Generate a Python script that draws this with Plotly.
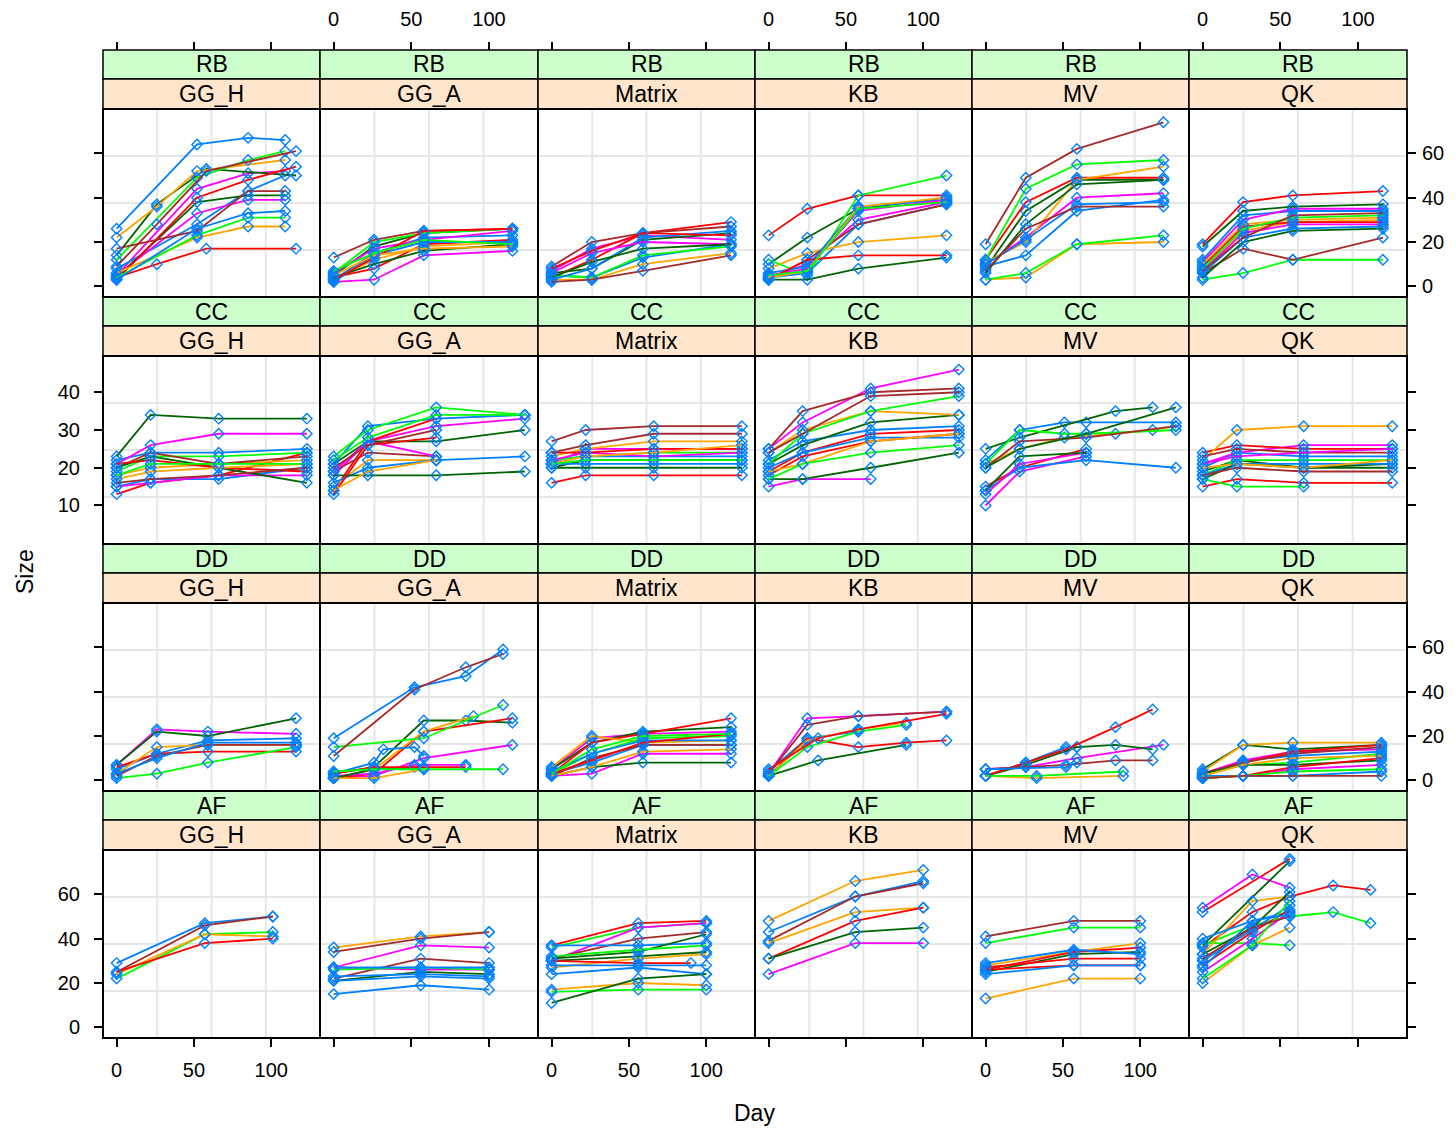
import plotly.graph_objects as go

# ---------------- data ----------------
ROWS = ["RB", "CC", "DD", "AF"]
COLS = ["GG_H", "GG_A", "Matrix", "KB", "MV", "QK"]
X_TICKS = [0, 50, 100]
Y_TICKS_WIDE = [0, 20, 40, 60]
Y_TICKS_CC = [10, 20, 30, 40]

# each panel: list of (group id, days, sizes)
RB_GG_H = [
    (0, [0, 52, 85, 109], [26, 64, 67, 66]),
    (1, [0, 52, 85, 109], [5, 44, 51, 52]),
    (2, [0, 26, 58, 116], [14, 37, 53, 50]),
    (3, [0, 26, 58, 116], [4, 10, 17, 17]),
    (4, [0, 26, 52, 109], [22, 36, 52, 57]),
    (5, [0, 52, 85, 109], [12, 49, 57, 61]),
    (6, [0, 26, 58, 116], [9, 28, 52, 61]),
    (7, [0, 52, 85, 109], [8, 28, 43, 50]),
    (8, [0, 52, 85, 109], [5, 33, 39, 39]),
    (9, [0, 52, 85, 109], [4, 38, 41, 41]),
    (10, [0, 52, 85, 116], [3, 40, 48, 54]),
    (11, [0, 52, 85, 109], [6, 22, 27, 27]),
    (12, [0, 52, 85, 109], [4, 23, 31, 31]),
    (13, [0, 52, 85, 109], [17, 25, 43, 43]),
    (14, [0, 52, 85, 109], [3, 26, 33, 34]),
]
RB_GG_A = [
    (0, [0, 26, 58, 115], [3, 15, 22, 23]),
    (1, [0, 26, 58, 115], [2, 3, 14, 16]),
    (2, [0, 26, 58, 115], [5, 18, 24, 26]),
    (3, [0, 26, 58, 115], [4, 8, 19, 21]),
    (4, [0, 26, 58, 115], [3, 12, 18, 20]),
    (5, [0, 26, 58, 115], [6, 20, 24, 26]),
    (6, [0, 26, 58, 115], [13, 21, 25, 26]),
    (7, [0, 26, 58, 115], [2, 14, 20, 20]),
    (8, [0, 26, 58, 115], [6, 17, 21, 25]),
    (9, [0, 26, 58, 115], [4, 10, 16, 19]),
    (10, [0, 26, 58, 115], [3, 13, 25, 26]),
    (11, [0, 26, 58, 115], [5, 14, 17, 18]),
    (12, [0, 26, 58, 115], [7, 15, 21, 19]),
]
RB_MATRIX = [
    (0, [0, 26, 59, 116], [5, 4, 13, 19]),
    (1, [0, 26, 59, 116], [7, 17, 23, 21]),
    (2, [0, 26, 59, 116], [6, 8, 21, 24]),
    (3, [0, 26, 59, 116], [4, 12, 24, 29]),
    (4, [0, 26, 59, 116], [3, 3, 10, 15]),
    (5, [0, 26, 59, 116], [5, 4, 14, 18]),
    (6, [0, 26, 59, 116], [9, 20, 24, 27]),
    (7, [0, 26, 59, 116], [3, 8, 22, 25]),
    (8, [0, 26, 59, 116], [6, 15, 20, 19]),
    (9, [0, 26, 59, 116], [4, 11, 17, 19]),
    (10, [0, 26, 59, 116], [8, 16, 24, 23]),
    (13, [0, 26, 59, 116], [2, 3, 7, 14]),
]
RB_KB = [
    (0, [0, 25, 58, 115], [4, 6, 28, 37]),
    (1, [0, 25, 58, 115], [4, 10, 30, 38]),
    (2, [0, 25, 58, 115], [10, 22, 35, 40]),
    (3, [0, 25, 58, 115], [23, 35, 41, 41]),
    (4, [0, 25, 58, 115], [8, 15, 20, 23]),
    (5, [0, 25, 58, 115], [12, 5, 41, 50]),
    (6, [0, 25, 58, 115], [3, 12, 28, 37]),
    (7, [0, 25, 58, 115], [6, 9, 36, 39]),
    (8, [0, 25, 58, 115], [5, 8, 34, 39]),
    (9, [0, 25, 58, 115], [3, 3, 8, 13]),
    (10, [0, 25, 58, 115], [3, 12, 14, 14]),
    (11, [0, 25, 58, 115], [4, 7, 36, 40]),
    (12, [0, 25, 58, 115], [5, 7, 35, 38]),
]
RB_MV = [
    (0, [0, 26, 59, 115], [9, 14, 34, 39]),
    (1, [0, 26, 59, 115], [10, 22, 40, 42]),
    (2, [0, 26, 59, 115], [8, 34, 48, 48]),
    (3, [0, 26, 59, 115], [12, 38, 49, 49]),
    (4, [0, 26, 59, 115], [11, 20, 48, 54]),
    (5, [0, 26, 59, 115], [12, 44, 55, 57]),
    (6, [0, 26, 59, 115], [19, 49, 62, 74]),
    (7, [0, 26, 59, 115], [10, 21, 37, 38]),
    (9, [0, 26, 59, 115], [6, 28, 46, 48]),
    (11, [0, 26, 59, 115], [3, 4, 19, 20]),
    (12, [0, 26, 59, 115], [3, 6, 19, 23]),
    (13, [0, 26, 59, 115], [7, 26, 36, 36]),
]
RB_QK = [
    (0, [0, 26, 58, 116], [12, 32, 34, 34]),
    (1, [0, 26, 58, 116], [11, 30, 35, 35]),
    (2, [0, 26, 58, 116], [18, 34, 36, 37]),
    (3, [0, 26, 58, 116], [19, 38, 41, 43]),
    (4, [0, 26, 58, 116], [8, 25, 29, 30]),
    (5, [0, 26, 58, 116], [3, 6, 12, 12]),
    (6, [0, 26, 58, 116], [6, 17, 12, 22]),
    (7, [0, 26, 58, 116], [6, 22, 26, 27]),
    (8, [0, 26, 58, 116], [7, 24, 28, 28]),
    (9, [0, 26, 58, 116], [4, 20, 25, 26]),
    (10, [0, 26, 58, 116], [9, 27, 29, 29]),
    (11, [0, 26, 58, 116], [10, 28, 30, 31]),
    (12, [0, 26, 58, 116], [8, 26, 31, 32]),
    (13, [0, 26, 58, 116], [7, 22, 32, 33]),
]
CC_GG_H = [
    (0, [0, 22, 66, 123], [22, 24, 24, 25]),
    (1, [0, 22, 66, 123], [21, 26, 29, 29]),
    (2, [0, 22, 66, 123], [23, 34, 33, 33]),
    (3, [0, 22, 66, 123], [13, 16, 18, 24]),
    (4, [0, 22, 66, 123], [18, 20, 21, 22]),
    (5, [0, 22, 66, 123], [19, 23, 23, 24]),
    (6, [0, 22, 66, 123], [20, 24, 21, 23]),
    (7, [0, 22, 66, 123], [15, 17, 17, 20]),
    (8, [0, 22, 66, 123], [15, 16, 18, 18]),
    (9, [0, 22, 66, 123], [20, 23, 20, 16]),
    (10, [0, 22, 66, 123], [21, 22, 20, 19]),
    (11, [0, 22, 66, 123], [17, 19, 20, 21]),
    (12, [0, 22, 66, 123], [18, 21, 21, 21]),
    (13, [0, 22, 66, 123], [16, 17, 18, 20]),
]
CC_GG_A = [
    (0, [0, 22, 66, 123], [21, 31, 33, 34]),
    (1, [0, 22, 66, 123], [18, 27, 31, 33]),
    (2, [0, 22, 66, 123], [21, 27, 27, 30]),
    (3, [0, 22, 66], [14, 27, 33]),
    (4, [0, 22, 66], [15, 22, 22]),
    (5, [0, 22, 66, 123], [23, 30, 36, 34]),
    (6, [0, 22, 66], [19, 24, 23]),
    (7, [0, 22, 66, 123], [16, 20, 22, 23]),
    (8, [0, 22, 66], [19, 27, 23]),
    (9, [0, 22, 66, 123], [18, 18, 18, 19]),
    (10, [0, 22, 66], [13, 26, 28]),
    (11, [0, 22, 66], [14, 19, 22]),
    (12, [0, 22, 66, 123], [22, 28, 34, 34]),
    (13, [0, 22, 66], [20, 26, 30]),
]
CC_MATRIX = [
    (0, [0, 22, 66, 123], [22, 23, 23, 23]),
    (1, [0, 22, 66, 123], [21, 25, 25, 25]),
    (2, [0, 22, 66, 123], [20, 22, 22, 22]),
    (3, [0, 22, 66, 123], [16, 18, 18, 18]),
    (4, [0, 22, 66, 123], [23, 25, 27, 27]),
    (5, [0, 22, 66, 123], [22, 23, 24, 24]),
    (6, [0, 22, 66, 123], [27, 30, 31, 31]),
    (7, [0, 22, 66, 123], [21, 21, 21, 21]),
    (8, [0, 22, 66, 123], [22, 24, 23, 24]),
    (9, [0, 22, 66, 123], [20, 20, 20, 20]),
    (10, [0, 22, 66, 123], [24, 24, 25, 25]),
    (11, [0, 22, 66, 123], [21, 23, 24, 26]),
    (12, [0, 22, 66, 123], [21, 22, 22, 22]),
    (13, [0, 22, 66, 123], [24, 26, 29, 29]),
]
CC_KB = [
    (0, [0, 22, 66, 123], [22, 27, 30, 31]),
    (1, [0, 22, 66, 123], [25, 32, 41, 46]),
    (2, [0, 22, 66, 123], [21, 26, 32, 34]),
    (3, [0, 22, 66, 123], [19, 24, 29, 30]),
    (4, [0, 22, 66, 123], [24, 30, 35, 34]),
    (5, [0, 22, 66, 123], [21, 29, 35, 39]),
    (6, [0, 22, 66, 123], [25, 35, 40, 41]),
    (7, [0, 22, 66, 123], [20, 24, 28, 28]),
    (8, [0, 22, 66], [15, 17, 17]),
    (9, [0, 22, 66, 123], [17, 17, 20, 24]),
    (10, [0, 22, 66, 123], [18, 23, 27, 29]),
    (11, [0, 22, 66, 123], [19, 21, 27, 29]),
    (12, [0, 22, 66, 123], [17, 21, 24, 26]),
    (13, [0, 22, 66, 123], [24, 29, 39, 40]),
]
CC_MV = [
    (0, [0, 22, 51, 65, 123], [22, 30, 32, 32, 32]),
    (1, [0, 22, 65], [10, 19, 23]),
    (2, [0, 22, 84, 108], [25, 28, 35, 36]),
    (3, [0, 22, 65], [15, 20, 25]),
    (4, [0, 22, 51, 84, 108, 123], [21, 25, 28, 29, 30, 31]),
    (5, [0, 22, 51, 65, 123], [21, 30, 29, 29, 30]),
    (6, [0, 22, 65, 123], [20, 27, 28, 31]),
    (7, [0, 22, 65, 123], [14, 20, 22, 20]),
    (8, [0, 22, 65], [13, 21, 24]),
    (9, [0, 22, 65, 123], [20, 25, 29, 36]),
    (16, [0, 22, 65], [14, 23, 24]),
]
CC_QK = [
    (0, [0, 22, 65, 122], [20, 24, 23, 23]),
    (1, [0, 22, 65, 122], [21, 24, 26, 26]),
    (2, [0, 22, 65, 122], [19, 22, 20, 21]),
    (3, [0, 22, 65, 122], [24, 26, 25, 25]),
    (4, [0, 22, 65, 122], [22, 30, 31, 31]),
    (5, [0, 22, 65, 122], [18, 22, 22, 22]),
    (6, [0, 22, 65, 122], [23, 25, 24, 24]),
    (7, [0, 22, 65, 122], [18, 21, 21, 21]),
    (8, [0, 22, 65, 122], [21, 23, 24, 25]),
    (9, [0, 22, 65, 122], [17, 21, 20, 20]),
    (10, [0, 22, 65, 122], [15, 17, 16, 16]),
    (11, [0, 22, 65, 122], [20, 21, 20, 22]),
    (12, [0, 22, 65], [17, 15, 15]),
    (13, [0, 22, 65, 122], [18, 20, 19, 19]),
]
DD_GG_H = [
    (0, [0, 26, 59, 116], [5, 12, 18, 19]),
    (1, [0, 26, 59, 116], [7, 23, 22, 21]),
    (2, [0, 26, 59, 116], [7, 22, 20, 28]),
    (3, [0, 26, 59, 116], [6, 12, 13, 13]),
    (4, [0, 26, 59, 116], [3, 15, 16, 16]),
    (5, [0, 26, 59, 116], [1, 3, 8, 15]),
    (6, [0, 26, 59, 116], [2, 11, 16, 16]),
    (7, [0, 26, 59, 116], [3, 10, 17, 17]),
]
DD_GG_A = [
    (0, [0, 52, 85, 109], [19, 42, 47, 59]),
    (1, [0, 26, 58, 115], [1, 2, 10, 16]),
    (2, [0, 26, 58, 85, 115], [3, 6, 27, 27, 26]),
    (3, [0, 26, 58, 115], [1, 3, 22, 28]),
    (4, [0, 26, 58, 90], [1, 5, 22, 29]),
    (5, [0, 58, 109], [15, 19, 34]),
    (6, [0, 52, 85, 109], [11, 41, 51, 57]),
    (7, [0, 26, 32, 52, 58], [3, 8, 14, 15, 11]),
    (8, [0, 26, 52, 85], [2, 3, 7, 7]),
    (9, [0, 26, 58], [1, 5, 6]),
    (10, [0, 26, 52, 85], [3, 6, 6, 6]),
    (11, [0, 26, 58], [1, 1, 5]),
    (12, [0, 26, 58, 109], [4, 5, 5, 5]),
]
DD_MATRIX = [
    (0, [0, 26, 59, 116], [3, 8, 16, 16]),
    (1, [0, 26, 59, 116], [5, 19, 21, 22]),
    (2, [0, 26, 59, 116], [5, 17, 22, 24]),
    (3, [0, 26, 59, 116], [3, 17, 21, 28]),
    (4, [0, 26, 59, 116], [6, 20, 17, 18]),
    (5, [0, 26, 59, 116], [3, 12, 19, 20]),
    (6, [0, 26, 59, 116], [2, 10, 16, 16]),
    (7, [0, 26, 59, 116], [4, 12, 18, 18]),
    (8, [0, 26, 59, 116], [2, 3, 12, 12]),
    (9, [0, 26, 59, 116], [2, 6, 8, 8]),
    (10, [0, 26, 59, 116], [3, 9, 17, 21]),
    (11, [0, 26, 59, 116], [2, 6, 13, 14]),
    (12, [0, 26, 59, 116], [3, 14, 20, 21]),
]
DD_KB = [
    (0, [0, 25, 58], [4, 19, 22]),
    (1, [0, 25, 58, 115], [3, 28, 29, 31]),
    (2, [0, 32, 89], [2, 9, 16]),
    (3, [0, 25, 58, 89, 115], [2, 19, 15, 17, 18]),
    (4, [0, 25, 58, 89], [2, 18, 23, 26]),
    (5, [0, 25, 58, 89], [2, 15, 22, 25]),
    (6, [0, 25, 58, 115], [3, 25, 29, 31]),
    (10, [0, 32, 58, 115], [5, 19, 23, 30]),
]
DD_MV = [
    (0, [0, 26, 52, 59], [2, 8, 15, 15]),
    (1, [0, 26, 59, 115], [5, 6, 10, 16]),
    (2, [0, 26, 59, 84, 108], [2, 7, 15, 16, 14]),
    (3, [0, 26, 52, 84, 108], [2, 8, 14, 24, 32]),
    (4, [0, 33, 89], [2, 1, 2]),
    (5, [0, 33, 89], [2, 2, 4]),
    (6, [0, 26, 52, 84, 108], [5, 6, 7, 9, 9]),
    (7, [0, 52, 59], [5, 6, 8]),
]
DD_QK = [
    (0, [0, 26, 58, 115], [2, 9, 11, 13]),
    (1, [0, 26, 58, 115], [3, 9, 13, 14]),
    (2, [0, 26, 58, 115], [5, 16, 14, 16]),
    (3, [0, 26, 58, 115], [3, 8, 13, 16]),
    (4, [0, 26, 58, 115], [4, 16, 17, 17]),
    (5, [0, 26, 58, 115], [2, 7, 8, 12]),
    (6, [0, 26, 58, 115], [3, 8, 12, 15]),
    (7, [0, 26, 58, 115], [2, 2, 2, 4]),
    (8, [0, 26, 58, 115], [1, 2, 5, 7]),
    (9, [0, 26, 58, 115], [3, 7, 7, 9]),
    (10, [0, 26, 58, 115], [1, 2, 6, 10]),
    (11, [0, 26, 58, 115], [2, 7, 10, 11]),
    (12, [0, 26, 58, 115], [1, 2, 4, 5]),
    (13, [0, 26, 58, 115], [1, 2, 2, 2]),
]
AF_GG_H = [
    (0, [0, 57, 101], [29, 47, 50]),
    (6, [0, 57, 101], [25, 46, 50]),
    (5, [0, 57, 101], [22, 42, 43]),
    (4, [0, 57, 101], [24, 42, 41]),
    (3, [0, 57, 101], [25, 38, 40]),
]
AF_GG_A = [
    (4, [0, 56, 100], [36, 41, 43]),
    (6, [0, 56, 100], [34, 40, 43]),
    (1, [0, 56, 100], [27, 37, 36]),
    (13, [0, 56, 100], [22, 31, 29]),
    (8, [0, 56, 100], [27, 26, 26]),
    (5, [0, 56, 100], [26, 27, 26]),
    (0, [0, 56, 100], [27, 27, 27]),
    (2, [0, 56, 100], [21, 25, 24]),
    (7, [0, 56, 100], [23, 24, 23]),
    (14, [0, 56, 100], [21, 23, 22]),
    (21, [0, 56, 100], [15, 19, 17]),
]
AF_MATRIX = [
    (3, [0, 56, 100], [37, 47, 48]),
    (5, [0, 56, 100], [36, 45, 47]),
    (1, [0, 56, 100], [30, 45, 47]),
    (6, [0, 56, 100], [31, 40, 43]),
    (0, [0, 56, 100], [37, 37, 38]),
    (2, [0, 56, 100], [31, 34, 42]),
    (12, [0, 56, 100], [32, 35, 37]),
    (9, [0, 56, 100], [30, 32, 34]),
    (4, [0, 56, 100], [27, 31, 33]),
    (10, [0, 56, 90], [30, 29, 29]),
    (7, [0, 56, 100], [28, 28, 28]),
    (14, [0, 56, 100], [24, 27, 24]),
    (11, [0, 56, 100], [17, 20, 19]),
    (19, [0, 56, 100], [16, 17, 17]),
    (16, [0, 56, 100], [11, 22, 24]),
]
AF_KB = [
    (4, [0, 56, 100], [48, 66, 71]),
    (0, [0, 56, 100], [43, 59, 66]),
    (6, [0, 56, 100], [39, 59, 65]),
    (11, [0, 56, 100], [38, 52, 54]),
    (3, [0, 56, 100], [31, 48, 54]),
    (2, [0, 56, 100], [31, 43, 45]),
    (1, [0, 56, 100], [24, 38, 38]),
]
AF_MV = [
    (6, [0, 57, 100], [41, 48, 48]),
    (5, [0, 57, 100], [38, 45, 45]),
    (4, [0, 57, 100], [28, 34, 38]),
    (3, [0, 57, 100], [26, 34, 36]),
    (2, [0, 57, 100], [25, 33, 34]),
    (10, [0, 57, 100], [27, 31, 31]),
    (17, [0, 57, 100], [26, 28, 28]),
    (0, [0, 57, 100], [24, 28, 28]),
    (7, [0, 57, 100], [29, 35, 33]),
    (11, [0, 57, 100], [13, 22, 22]),
]
AF_QK = [
    (3, [0, 56], [52, 76]),
    (1, [0, 32, 56], [54, 69, 63]),
    (10, [0, 32, 56, 84, 108], [36, 52, 59, 64, 62]),
    (5, [0, 32, 56, 84, 108], [37, 46, 50, 52, 47]),
    (12, [0, 32, 56], [38, 38, 37]),
    (2, [0, 56], [37, 75]),
    (4, [0, 32, 56], [33, 57, 59]),
    (11, [0, 32, 56], [20, 37, 45]),
    (0, [0, 32, 56], [40, 48, 52]),
    (7, [0, 32, 56], [30, 44, 55]),
    (8, [0, 32, 56], [25, 40, 52]),
    (9, [0, 32, 56], [33, 45, 61]),
    (17, [0, 32, 56], [28, 43, 53]),
    (19, [0, 32, 56], [22, 37, 57]),
    (6, [0, 32, 56], [31, 45, 50]),
    (14, [0, 32, 56], [27, 48, 51]),
]

PANEL_DATA = [
    [RB_GG_H, RB_GG_A, RB_MATRIX, RB_KB, RB_MV, RB_QK],
    [CC_GG_H, CC_GG_A, CC_MATRIX, CC_KB, CC_MV, CC_QK],
    [DD_GG_H, DD_GG_A, DD_MATRIX, DD_KB, DD_MV, DD_QK],
    [AF_GG_H, AF_GG_A, AF_MATRIX, AF_KB, AF_MV, AF_QK],
]

# ---------------- style / layout ----------------
PALETTE = ["#0080ff", "#ff00ff", "#006400", "#ff0000", "#ffa500", "#00ff00", "#a52a2a"]
MARKER_COLOR = "#0080ff"
STRIP_OUTER = "#ccffcc"
STRIP_INNER = "#ffe5cc"
GRID_COLOR = "#e6e6e6"
FONT = "Liberation Sans, Arial, sans-serif"

W, H = 1456, 1130
COL_EDGES = [103, 320, 538, 755, 972, 1189, 1407]
ROW_TOPS = [109, 356, 603, 850]
PANEL_H = 188
STRIP_OUT_H, STRIP_IN_H = 29, 30
TOP_AXIS_PX = 50
X_RANGE = [-8.8, 131.5]
Y_RANGES = [[-4.8, 80], [-0.2, 49.6], [-4.8, 80], [-4.8, 80]]


def px_x(p):
    return p / W


def px_y(p):
    return 1 - p / H


fig = go.Figure()
layout = dict(
    width=W, height=H, autosize=False,
    margin=dict(l=0, r=0, t=0, b=0),
    paper_bgcolor="white", plot_bgcolor="white",
    font=dict(family=FONT, color="black", size=20),
    showlegend=False,
)
shapes = []
annotations = []
borders = []

for r in range(4):
    top = ROW_TOPS[r]
    bot = top + PANEL_H
    for c in range(6):
        k = r * 6 + c + 1
        left = COL_EDGES[c]
        right = COL_EDGES[c + 1]
        xname = "x" if k == 1 else f"x{k}"
        yname = "y" if k == 1 else f"y{k}"
        xkey = "xaxis" if k == 1 else f"xaxis{k}"
        ykey = "yaxis" if k == 1 else f"yaxis{k}"

        layout[xkey] = dict(
            domain=[px_x(left), px_x(right)], range=X_RANGE, anchor=yname,
            showline=False, showgrid=False, zeroline=False, tickvals=X_TICKS,
            ticks="outside" if r == 3 else "", ticklen=8, tickwidth=1.5,
            tickcolor="black", showticklabels=(r == 3 and c % 2 == 0),
            ticklabelstandoff=6,
            tickfont=dict(size=20), fixedrange=True,
        )
        yticks = Y_TICKS_CC if r == 1 else Y_TICKS_WIDE
        outer = c in (0, 5)
        show_lab = (c == 0 and r in (1, 3)) or (c == 5 and r in (0, 2))
        layout[ykey] = dict(
            domain=[px_y(bot), px_y(top)], range=Y_RANGES[r], anchor=xname,
            side="right" if c == 5 else "left",
            showline=False, showgrid=False, zeroline=False, tickvals=yticks,
            ticks="outside" if outer else "", ticklen=8, tickwidth=1.5,
            tickcolor="black", showticklabels=show_lab,
            ticklabelstandoff=10 if c == 0 else 2,
            tickfont=dict(size=20), fixedrange=True,
        )

        # equal-division grid (3 lines each way)
        xd = f"{xname} domain"
        yd = f"{yname} domain"
        for f in (0.25, 0.5, 0.75):
            shapes.append(dict(type="line", xref=xd, yref=yd, x0=f, x1=f, y0=0, y1=1,
                               line=dict(color=GRID_COLOR, width=2), layer="below"))
            shapes.append(dict(type="line", xref=xd, yref=yd, x0=0, x1=1, y0=f, y1=f,
                               line=dict(color=GRID_COLOR, width=2), layer="below"))

        # panel border (shared edges coincide exactly)
        borders.append(dict(type="rect", xref="paper", yref="paper",
                            x0=px_x(left), x1=px_x(right), y0=px_y(bot), y1=px_y(top),
                            fillcolor="rgba(0,0,0,0)", line=dict(color="black", width=2)))

        # strips
        for (y0p, y1p, fill, txt) in (
            (top - STRIP_IN_H - STRIP_OUT_H, top - STRIP_IN_H, STRIP_OUTER, ROWS[r]),
            (top - STRIP_IN_H, top, STRIP_INNER, COLS[c]),
        ):
            shapes.append(dict(type="rect", xref="paper", yref="paper",
                               x0=px_x(left), x1=px_x(right), y0=px_y(y1p), y1=px_y(y0p),
                               fillcolor=fill, line=dict(color="black", width=1.5)))
            annotations.append(dict(text=txt, xref="paper", yref="paper",
                                    x=px_x((left + right) / 2), y=px_y((y0p + y1p) / 2),
                                    xanchor="center", yanchor="middle", showarrow=False,
                                    font=dict(size=23, color="black", family=FONT)))

        # data
        for g, days, sizes in PANEL_DATA[r][c]:
            fig.add_trace(go.Scatter(
                x=days, y=sizes, mode="lines+markers", xaxis=xname, yaxis=yname,
                line=dict(color=PALETTE[g % 7], width=1.8),
                marker=dict(symbol="diamond-open", size=8, color=MARKER_COLOR,
                            line=dict(width=1.4, color=MARKER_COLOR)),
                showlegend=False, hoverinfo="skip",
            ))

# top x axes (above the strips)
for c in range(6):
    kt = 24 + c + 1
    base = "x" if c == 0 else f"x{c + 1}"
    layout[f"xaxis{kt}"] = dict(
        overlaying=base, anchor="free", position=px_y(TOP_AXIS_PX), side="top",
        range=X_RANGE, tickvals=X_TICKS, ticks="outside", ticklen=8, tickwidth=1.5,
        tickcolor="black", showticklabels=(c % 2 == 1), showline=False,
        ticklabelstandoff=8,
        showgrid=False, zeroline=False, tickfont=dict(size=20), fixedrange=True,
    )
    fig.add_trace(go.Scatter(x=[None], y=[None], mode="markers",
                             xaxis=f"x{kt}", yaxis=("y" if c == 0 else f"y{c + 1}"),
                             showlegend=False, hoverinfo="skip"))

annotations.append(dict(text="Size", xref="paper", yref="paper", x=px_x(25), y=px_y(572),
                        textangle=-90, showarrow=False, xanchor="center", yanchor="middle",
                        font=dict(size=23, color="black", family=FONT)))
annotations.append(dict(text="Day", xref="paper", yref="paper", x=px_x(754), y=px_y(1113),
                        showarrow=False, xanchor="center", yanchor="middle",
                        font=dict(size=23, color="black", family=FONT)))

layout["shapes"] = shapes + borders
layout["annotations"] = annotations
fig.update_layout(**layout)

fig.write_html("out.html", config={"displayModeBar": False},
               post_script="document.body.style.margin='0';")
